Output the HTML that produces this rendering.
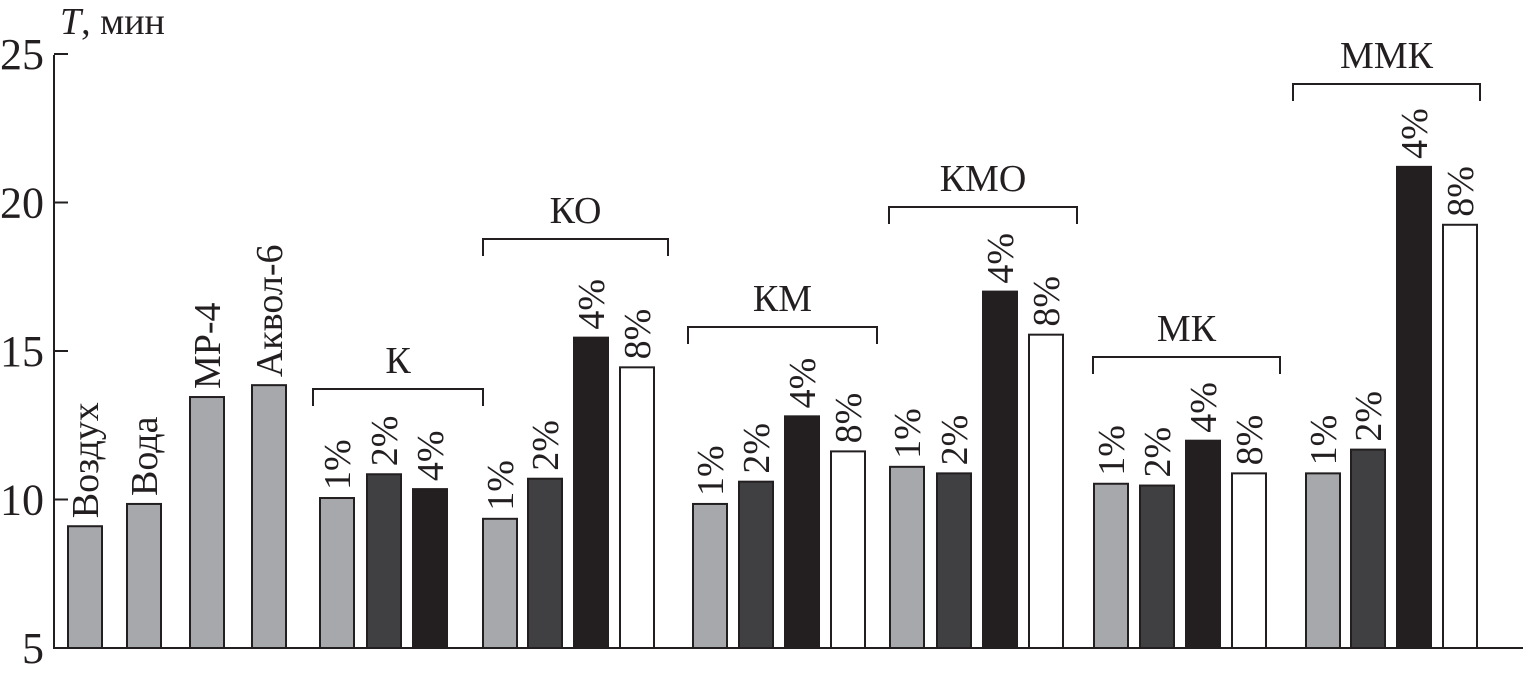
<!DOCTYPE html>
<html><head><meta charset="utf-8"><style>
body{margin:0;background:#fff}
svg{display:block}
text{font-family:"Liberation Serif","DejaVu Serif",serif}
</style></head><body>
<svg id="c" width="1523" height="674" viewBox="0 0 1523 674"></svg>
<script>
const labels=["Воздух","Вода","МР-4","Аквол-6","1%","2%","4%","1%","2%","4%","8%","1%","2%","4%","8%","1%","2%","4%","8%","1%","2%","4%","8%","1%","2%","4%","8%"];
const values=[9.1,9.85,13.45,13.85,10.05,10.85,10.35,9.35,10.7,15.45,14.45,9.85,10.6,12.8,11.62,11.1,10.88,17.0,15.55,10.53,10.47,11.98,10.88,10.88,11.68,21.2,19.25];
const kinds=["l","l","l","l","l","d","b","l","d","b","w","l","d","b","w","l","d","b","w","l","d","b","w","l","d","b","w"];
const barX=[68,127,190,252,320,367,413,483,528,574,620,693,739,785,831,890,937,983,1029,1094,1140,1186,1232,1306,1351,1397,1443];
const groupNames=["К","КО","КМ","КМО","МК","ММК"];
const groupX1=[313,483,688,889,1093,1293];
const groupX2=[483,668,877,1077,1280,1480];
const groupBracketY=[389,239,327,207,357,84];
const yTicks=[5,10,15,20,25];
const svg=document.getElementById('c');const NS="http://www.w3.org/2000/svg";
const y=v=>648-(v-5)*29.7;const BW=34;
function mk(t,a,p){const e=document.createElementNS(NS,t);for(const k in a)e.setAttribute(k,a[k]);(p||svg).appendChild(e);return e;}
const ax=mk('line',{x1:54,y1:55,x2:54,y2:649,stroke:'#231f20','stroke-width':2});


const bx=mk('line',{x1:53,y1:648,x2:1523,y2:648,stroke:'#231f20','stroke-width':2});


yTicks.forEach(t=>{
 const l=mk('line',{x1:54,y1:y(t),x2:68,y2:y(t),stroke:'#231f20','stroke-width':2});
 
 
 const tx=mk('text',{x:44,y:y(t)+15,'text-anchor':'end','font-size':44,fill:'#231f20'});tx.textContent=t;
 
 
});
const tt=mk('text',{x:60,y:34,'font-size':38,fill:'#231f20'});tt.innerHTML='<tspan font-style="italic">T</tspan>, мин';


const fills={l:'#a7a8ac',d:'#404042',b:'#231f20',w:'#ffffff'};
values.forEach((v,i)=>{
 const r=mk('rect',{x:barX[i],y:y(v),width:BW,height:648-y(v),fill:fills[kinds[i]],stroke:'#231f20','stroke-width':2});
 
 
 const cx=barX[i]+BW/2+13,ty=y(v)-8;
 const t=mk('text',{x:0,y:0,transform:`translate(${cx},${ty}) rotate(-90)`,'font-size':38,fill:'#231f20'});t.textContent=labels[i];
 
 
});
groupNames.forEach((g,i)=>{
 const x1=groupX1[i],x2=groupX2[i],by=groupBracketY[i];
 const p=mk('path',{d:`M${x1},${by+17}V${by}H${x2}V${by+17}`,fill:'none',stroke:'#231f20','stroke-width':2});
 
 
 const t=mk('text',{x:(x1+x2)/2,y:by-16,'text-anchor':'middle','font-size':38,fill:'#231f20'});t.textContent=g;
 
 
});
</script>
</body></html>
